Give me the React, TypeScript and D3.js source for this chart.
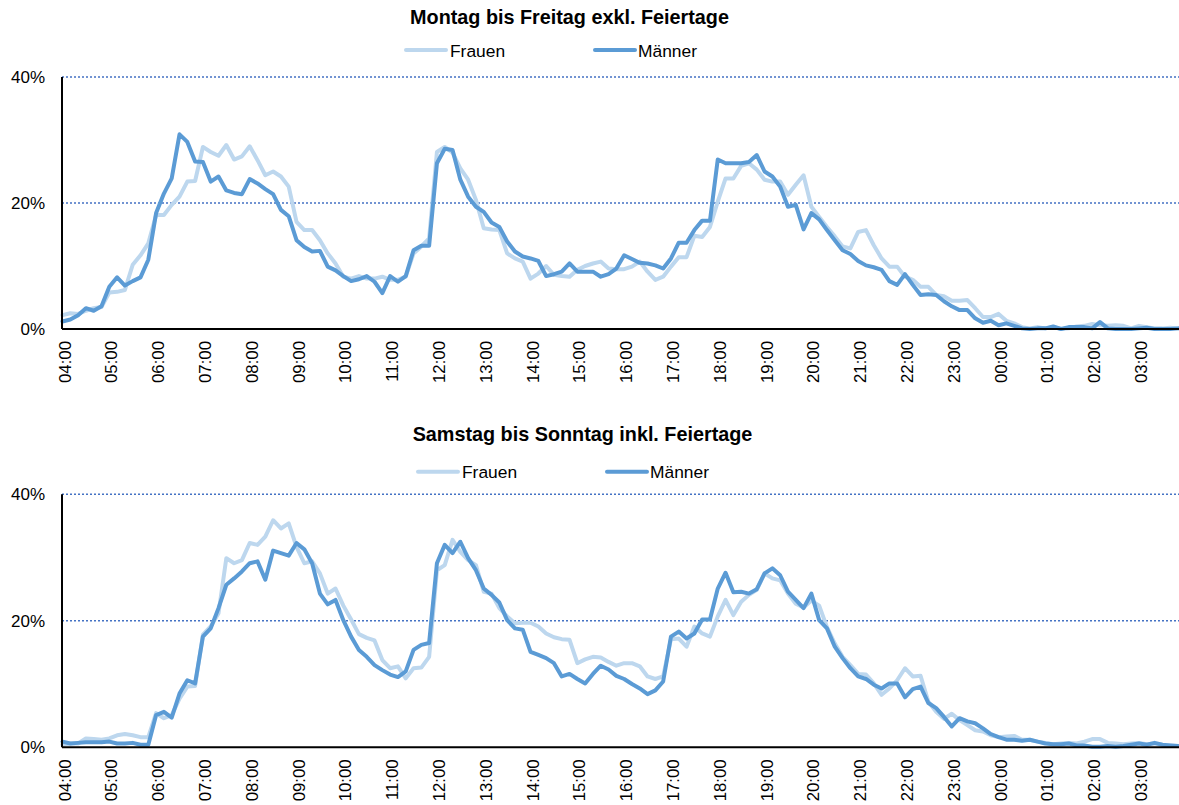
import React from "react";
import * as d3 from "d3";

const hourLabels = ["04:00","05:00","06:00","07:00","08:00","09:00","10:00","11:00","12:00","13:00","14:00","15:00","16:00","17:00","18:00","19:00","20:00","21:00","22:00","23:00","00:00","01:00","02:00","03:00"];
const minuteSteps = ["00","10","20","30","40","50"];
const categories: string[] = hourLabels.flatMap(h => minuteSteps.map(m => h.slice(0, 3) + m));

const yTicks = [0, 20, 40];
const gridTicks = [20, 40];

const weekdayTitle = "Montag bis Freitag exkl. Feiertage";
const weekendTitle = "Samstag bis Sonntag inkl. Feiertage";
const seriesNames = ["Frauen", "Männer"];

const weekdayFrauen = [
  2.2,2.5,2.4,2.9,3.3,3.5,5.8,5.9,6.2,10.2,11.7,13.6,
  18.1,18.1,19.7,21.0,23.4,23.5,28.9,28.1,27.5,29.2,26.9,27.4,
  29.0,26.8,24.4,25.0,24.2,22.6,17.0,15.7,15.7,14.1,12.0,10.4,
  8.3,8.0,8.4,8.0,8.0,8.3,7.8,7.8,8.3,12.0,13.1,14.4,
  28.1,28.9,28.0,25.5,23.7,20.5,16.0,15.8,15.7,12.0,11.2,10.7,
  8.0,8.8,10.0,8.6,8.4,8.3,9.4,10.0,10.4,10.7,9.6,9.5,
  9.5,9.9,10.7,9.1,7.8,8.3,9.9,11.4,11.4,14.8,14.6,16.2,
  20.2,23.9,23.9,25.9,26.3,25.3,23.7,23.4,23.4,21.3,22.9,24.4,
  19.4,17.8,16.2,14.7,13.1,12.8,15.4,15.7,13.3,11.2,9.9,9.9,
  8.3,7.8,6.7,6.7,5.4,5.2,4.5,4.5,4.6,3.3,1.9,1.9,
  2.4,1.3,0.9,0.3,0.1,0.3,0.1,0.3,0.0,0.1,0.4,0.5,
  0.8,0.6,0.5,0.6,0.5,0.1,0.5,0.3,0.1,0.1,0.2,0.1
];
const weekdayMaenner = [
  1.2,1.5,2.2,3.3,2.9,3.6,6.7,8.2,6.9,7.6,8.2,11.0,
  18.4,21.5,23.9,30.9,29.7,26.6,26.5,23.4,24.2,22.0,21.6,21.4,
  23.8,23.1,22.2,21.4,18.9,17.9,14.1,13.0,12.3,12.4,9.9,9.3,
  8.4,7.6,7.9,8.4,7.5,5.7,8.4,7.5,8.4,12.5,13.2,13.2,
  26.3,28.6,28.4,23.7,21.0,19.4,18.6,16.9,16.2,13.9,12.3,11.5,
  11.2,10.8,8.4,8.7,9.1,10.4,9.1,9.1,9.1,8.3,8.7,9.6,
  11.7,11.1,10.5,10.4,10.1,9.6,11.2,13.7,13.7,15.7,17.2,17.2,
  26.9,26.3,26.3,26.3,26.5,27.6,25.0,24.2,22.6,19.4,19.7,15.8,
  18.4,17.4,15.7,14.1,12.5,11.9,10.8,10.1,9.8,9.4,7.6,7.0,
  8.7,7.0,5.4,5.5,5.4,4.4,3.6,3.0,3.0,1.7,1.0,1.3,
  0.6,0.9,0.5,0.1,0.0,0.1,0.1,0.4,0.0,0.3,0.3,0.3,
  0.1,1.1,0.1,0.0,0.0,0.0,0.1,0.2,0.0,0.0,0.0,0.1
];
const weekendFrauen = [
  0.4,0.6,0.6,1.4,1.3,1.2,1.4,1.9,2.1,1.9,1.6,1.6,
  5.4,4.6,5.1,7.7,9.6,9.7,17.8,19.1,21.2,29.9,29.1,29.6,
  32.3,32.0,33.3,35.9,34.6,35.4,31.7,29.1,29.4,27.5,24.3,25.1,
  22.4,20.2,17.9,17.3,16.9,13.8,12.5,12.8,10.9,12.5,12.6,14.3,
  28.0,28.8,32.8,30.9,29.6,28.8,24.6,24.3,22.0,20.7,19.6,19.7,
  19.7,19.1,18.0,17.4,17.1,17.0,13.3,13.9,14.3,14.2,13.5,12.9,
  13.3,13.3,12.8,11.2,10.8,11.2,17.1,17.2,15.9,19.1,18.0,17.5,
  20.7,23.3,20.9,23.0,24.1,24.9,27.5,26.7,26.4,24.3,22.7,22.1,
  23.2,22.4,19.0,16.4,14.3,13.0,11.6,11.5,10.1,8.3,9.3,10.6,
  12.5,11.2,11.3,7.2,5.6,4.5,5.3,4.3,3.5,2.7,2.5,1.9,
  1.6,1.7,1.8,1.2,1.2,0.9,0.7,0.5,0.6,0.7,0.6,0.9,
  1.3,1.3,0.7,0.6,0.5,0.6,0.7,0.5,0.6,0.4,0.3,0.2
];
const weekendMaenner = [
  0.9,0.6,0.7,0.8,0.8,0.8,0.9,0.6,0.6,0.7,0.4,0.4,
  5.1,5.6,4.7,8.5,10.6,10.1,17.5,18.8,22.0,25.7,26.7,27.8,
  29.1,29.4,26.5,31.1,30.7,30.3,32.3,31.3,29.1,24.3,22.6,23.3,
  20.1,17.5,15.4,14.3,13.0,12.2,11.5,11.1,12.0,15.4,16.2,16.5,
  29.1,32.0,30.7,32.5,29.9,28.0,25.1,24.1,22.9,20.1,18.8,18.6,
  15.1,14.6,14.1,13.3,11.2,11.6,10.8,10.1,11.6,12.9,12.3,11.3,
  10.8,10.0,9.3,8.4,9.0,10.4,17.5,18.3,17.2,18.0,20.2,20.2,
  25.1,27.6,24.5,24.6,24.3,25.0,27.5,28.3,27.2,24.6,23.3,22.0,
  24.3,20.1,18.8,15.9,14.1,12.5,11.2,10.8,9.9,9.3,10.1,10.1,
  7.9,9.2,9.6,7.0,6.2,4.8,3.3,4.6,4.1,3.8,3.0,2.1,
  1.6,1.2,1.2,1.05,1.2,0.9,0.6,0.5,0.5,0.6,0.3,0.3,
  0.1,0.1,0.2,0.1,0.2,0.4,0.6,0.4,0.7,0.4,0.3,0.2
];

const FONT = "'Liberation Sans', Arial, Helvetica, sans-serif";
const COLOR_F = "#BDD7EE";
const COLOR_M = "#5B9BD5";
const GRID = "#4472C4";

type PanelProps = {
  title: string;
  frauen: number[];
  maenner: number[];
  top: number; // y of 40%
  bottom: number; // y of 0%
  titleX: number;
  titleY: number;
  legendY: number;
  legendFX: number;
  legendMX: number;
};

const xScale = d3.scalePoint<string>().domain(categories).range([62.5, 1178]);

function Panel(p: PanelProps) {
  const y = d3.scaleLinear().domain([0, 40]).range([p.bottom, p.top]);
  const line = d3
    .line<number>()
    .x((_, i) => xScale(categories[i]) as number)
    .y((d) => y(d));
  const left = 62;
  const right = 1179;
  return (
    <g>
      <text x={p.titleX} y={p.titleY} textAnchor="middle" fontFamily={FONT} fontWeight="bold" fontSize={19.8} fill="#000">
        {p.title}
      </text>
      {/* legend */}
      <line x1={p.legendFX} x2={p.legendFX + 40} y1={p.legendY} y2={p.legendY} stroke={COLOR_F} strokeWidth={4} strokeLinecap="round" />
      <text x={p.legendFX + 44} y={p.legendY + 6.5} fontFamily={FONT} fontSize={17.4} fill="#000">{seriesNames[0]}</text>
      <line x1={p.legendMX} x2={p.legendMX + 40} y1={p.legendY} y2={p.legendY} stroke={COLOR_M} strokeWidth={4} strokeLinecap="round" />
      <text x={p.legendMX + 43} y={p.legendY + 6.5} fontFamily={FONT} fontSize={17.4} fill="#000">{seriesNames[1]}</text>
      {/* grid */}
      {gridTicks.map((t) => (
        <line key={"g" + t} x1={left} x2={right} y1={y(t)} y2={y(t)} stroke={GRID} strokeWidth={1.5} strokeDasharray="2,2" />
      ))}
      {/* y labels */}
      {yTicks.map((t) => (
        <text key={"y" + t} x={45} y={y(t) + 6} textAnchor="end" fontFamily={FONT} fontSize={17} fill="#000">
          {t + "%"}
        </text>
      ))}
      {/* series */}
      <path d={line(p.frauen) || ""} fill="none" stroke={COLOR_F} strokeWidth={4} strokeLinejoin="round" strokeLinecap="round" />
      <path d={line(p.maenner) || ""} fill="none" stroke={COLOR_M} strokeWidth={4} strokeLinejoin="round" strokeLinecap="round" />
      {/* axes */}
      <line x1={left} x2={left} y1={p.top} y2={p.bottom} stroke="#000" strokeWidth={2} />
      <line x1={left} x2={right} y1={p.bottom} y2={p.bottom} stroke="#000" strokeWidth={2} />
      {/* x labels */}
      {hourLabels.map((h) => {
        const cx = (xScale(h.slice(0, 3) + "00") as number) + 8;
        const cy = p.bottom + 12;
        return (
          <text key={h} transform={`translate(${cx},${cy}) rotate(-90)`} textAnchor="end" fontFamily={FONT} fontSize={16.8} fill="#000">
            {h}
          </text>
        );
      })}
    </g>
  );
}

export default function App() {
  return (
    <svg width={1179} height={805} style={{ position: "absolute", left: 0, top: 0, background: "#fff" }}>
      <rect x={0} y={0} width={1179} height={805} fill="#fff" />
      <Panel title={weekdayTitle} frauen={weekdayFrauen} maenner={weekdayMaenner} top={77} bottom={329}
        titleX={569.5} titleY={24} legendY={50} legendFX={406} legendMX={595} />
      <Panel title={weekendTitle} frauen={weekendFrauen} maenner={weekendMaenner} top={494.3} bottom={747.3}
        titleX={582.5} titleY={441} legendY={471.7} legendFX={418} legendMX={607} />
    </svg>
  );
}
